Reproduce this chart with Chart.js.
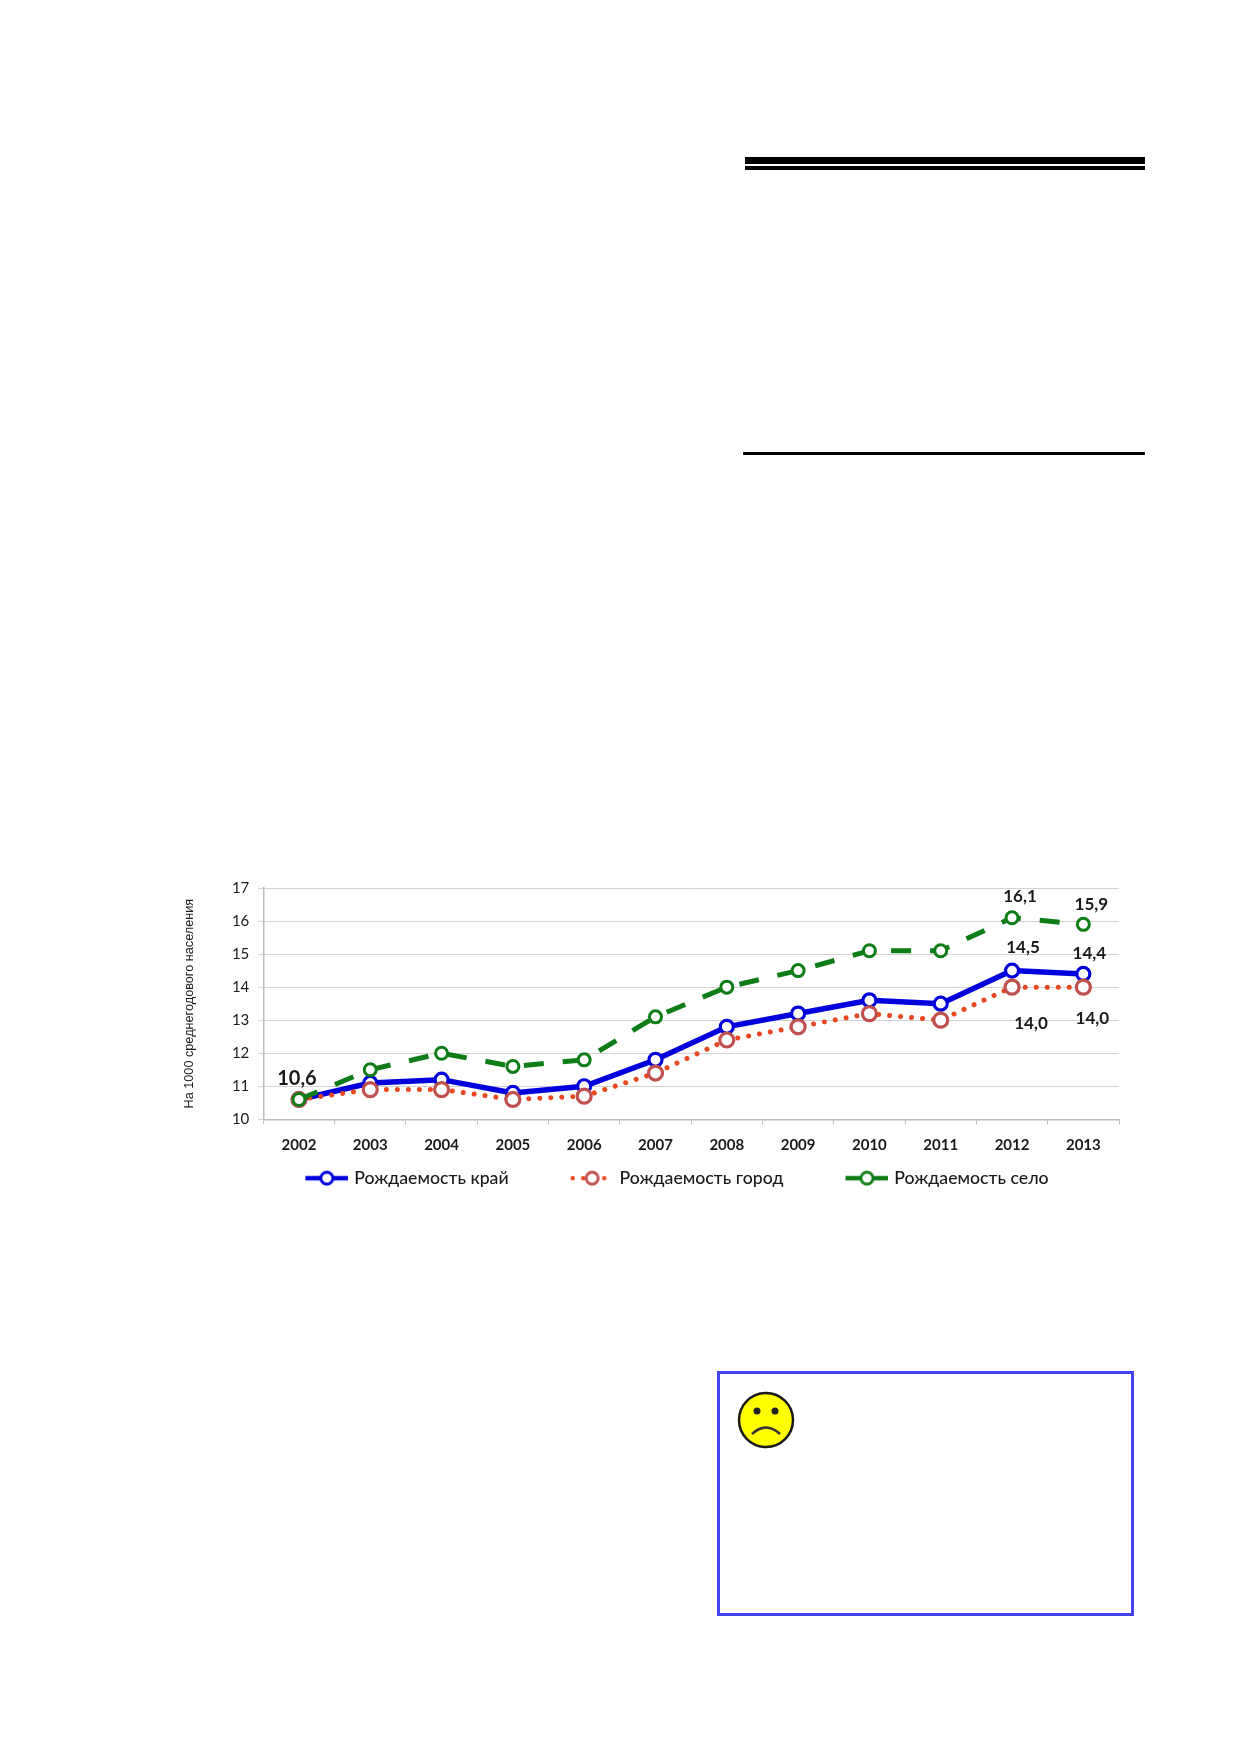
<!DOCTYPE html>
<html lang="ru">
<head>
<meta charset="utf-8">
<title>Рождаемость</title>
<script src="https://cdn.jsdelivr.net/npm/chart.js@4"></script>
<style>
    html, body { margin: 0; padding: 0; background: #fff; }
    body { position: relative; width: 1239px; height: 1752px; overflow: hidden; }
    .rule { position: absolute; background: #000; }
    #birthChart { position: absolute; left: 170px; top: 870px; }
    #noteBox {
        position: absolute; left: 717px; top: 1371px; width: 411px; height: 239px;
        border: 3px solid #4444ee; background: #fff;
    }
    #smiley { position: absolute; left: 737px; top: 1391px; }
</style>
</head>
<body>
<div class="rule" style="left:745px;top:157px;width:400px;height:7px"></div>
<div class="rule" style="left:745px;top:166px;width:400px;height:4px"></div>
<div class="rule" style="left:743px;top:452px;width:402px;height:3px"></div>

<canvas id="birthChart" width="989" height="327"></canvas>

<div id="noteBox"></div>
<svg id="smiley" width="58" height="58" viewBox="0 0 58 58">
    <circle cx="29" cy="29" r="27" fill="#ffff00" stroke="#1a1a1a" stroke-width="2.5"/>
    <circle cx="20" cy="20" r="3.5" fill="#222"/>
    <circle cx="38" cy="20" r="3.5" fill="#222"/>
    <path d="M15 43 Q29 30 43 43" fill="none" stroke="#333" stroke-width="2.5"/>
</svg>

<script>
const years = ['2002', '2003', '2004', '2005', '2006', '2007', '2008', '2009', '2010', '2011', '2012', '2013'];
const krai = [10.6, 11.1, 11.2, 10.8, 11.0, 11.8, 12.8, 13.2, 13.6, 13.5, 14.5, 14.4];
const gorod = [10.6, 10.9, 10.9, 10.6, 10.7, 11.4, 12.4, 12.8, 13.2, 13.0, 14.0, 14.0];
const selo = [10.6, 11.5, 12.0, 11.6, 11.8, 13.1, 14.0, 14.5, 15.1, 15.1, 16.1, 15.9];

const TEXT = '#1a1a1a';
const FONT = 'Lato, "Noto Sans", sans-serif';

// dataset, point, shift from the point, font size
const labelSpots = [
    { ds: 2, i: 0, dx: -2, dy: -21, size: 20 },
    { ds: 2, i: 10, dx: 8, dy: -21, size: 17 },
    { ds: 2, i: 11, dx: 8, dy: -20, size: 17 },
    { ds: 0, i: 10, dx: 11, dy: -23, size: 17 },
    { ds: 0, i: 11, dx: 6, dy: -20, size: 17 },
    { ds: 1, i: 10, dx: 19, dy: 36, size: 17 },
    { ds: 1, i: 11, dx: 9, dy: 31, size: 17 }
];

const pointLabels = {
    id: 'pointLabels',
    afterDatasetsDraw(chart) {
        const { ctx } = chart;
        ctx.save();
        ctx.fillStyle = TEXT;
        ctx.textAlign = 'center';
        ctx.textBaseline = 'middle';
        for (const spot of labelSpots) {
            const pt = chart.getDatasetMeta(spot.ds).data[spot.i];
            const value = chart.data.datasets[spot.ds].data[spot.i];
            ctx.font = `bold ${spot.size}px ${FONT}`;
            ctx.fillText(value.toFixed(1).replace('.', ','), pt.x + spot.dx, pt.y + spot.dy);
        }
        ctx.restore();
    }
};

// line sample with a marker, used as the legend symbol. The blank left part
// makes the gap between legend items, padding alone would also grow the height
function legendSymbol(lineColor, ringColor, dash, lineWidth) {
    const blank = 53;
    const c = document.createElement('canvas');
    c.width = blank + 43;
    c.height = 20;
    const g = c.getContext('2d');
    g.translate(blank, 0);
    g.strokeStyle = lineColor;
    g.lineWidth = lineWidth;
    g.lineCap = dash.length ? 'round' : 'butt';
    g.setLineDash(dash);
    g.beginPath();
    g.moveTo(dash.length ? 2 : 0, 10);
    g.lineTo(43, 10);
    g.stroke();
    g.setLineDash([]);
    g.beginPath();
    g.arc(21.5, 10, 6, 0, Math.PI * 2);
    g.fillStyle = '#fff';
    g.fill();
    g.strokeStyle = ringColor;
    g.lineWidth = 2.8;
    g.stroke();
    return c;
}

const symbols = [
    legendSymbol('#0000dd', '#0000dd', [], 4.5),
    legendSymbol('#e8481f', '#c0504d', [0.01, 10.5], 4.5),
    legendSymbol('#0e7d18', '#0e7d18', [], 4.5)
];

new Chart(document.getElementById('birthChart'), {
    type: 'line',
    plugins: [pointLabels],
    data: {
        labels: years,
        datasets: [
            {
                label: 'Рождаемость край',
                data: krai,
                order: 3,
                borderColor: '#0000dd',
                borderWidth: 5.5,
                pointRadius: 6.5,
                pointBorderWidth: 3.2,
                pointBorderColor: '#0000dd',
                pointBackgroundColor: '#fff'
            },
            {
                label: 'Рождаемость город',
                data: gorod,
                order: 2,
                borderColor: '#e8481f',
                borderWidth: 5,
                borderDash: [0.01, 11],
                borderCapStyle: 'round',
                pointRadius: 7,
                pointBorderWidth: 3.2,
                pointBorderColor: '#c0504d',
                pointBackgroundColor: '#fff'
            },
            {
                label: 'Рождаемость село',
                data: selo,
                order: 1,
                borderColor: '#0e7d18',
                borderWidth: 5,
                borderDash: [20, 19],
                pointRadius: 6,
                pointBorderWidth: 3,
                pointBorderColor: '#0e7d18',
                pointBackgroundColor: '#fff'
            }
        ]
    },
    options: {
        responsive: false,
        devicePixelRatio: 1,
        animation: false,
        // left padding only moves the centred legend, the y axis is narrowed to match
        layout: { padding: { top: 18, right: 40, left: 15 } },
        plugins: {
            tooltip: { enabled: false },
            legend: {
                position: 'bottom',
                labels: {
                    usePointStyle: true,
                    pointStyleWidth: 90,
                    padding: 12,
                    color: TEXT,
                    font: { family: FONT, size: 17.7, weight: '500' },
                    generateLabels(chart) {
                        const items = Chart.defaults.plugins.legend.labels.generateLabels(chart);
                        items.sort((a, b) => a.datasetIndex - b.datasetIndex);
                        items.forEach((item, i) => { item.pointStyle = symbols[i]; });
                        return items;
                    }
                }
            }
        },
        scales: {
            x: {
                offset: true,
                afterFit(scale) { scale.height = 38; },
                border: { color: '#bdbdbd', width: 1.5 },
                grid: { offset: true, drawOnChartArea: false, color: '#bdbdbd', tickLength: 5 },
                ticks: {
                    padding: 12,
                    color: TEXT,
                    maxRotation: 0,
                    font: { family: FONT, size: 15, weight: 'bold' }
                }
            },
            y: {
                min: 10,
                max: 17,
                afterFit(scale) { scale.width = 78.3; },
                border: { color: '#bdbdbd', width: 1.5 },
                grid: { color: '#d2d2d2', lineWidth: 1, tickLength: 5 },
                ticks: {
                    stepSize: 1,
                    padding: 9,
                    color: TEXT,
                    font: { family: FONT, size: 15 }
                },
                title: {
                    display: true,
                    text: 'На 1000 среднегодового населения',
                    color: TEXT,
                    padding: { top: -3.6, bottom: 0 },
                    font: { family: '"Liberation Sans Narrow", "Liberation Sans", sans-serif', size: 12.7 }
                }
            }
        }
    }
});
</script>
</body>
</html>
